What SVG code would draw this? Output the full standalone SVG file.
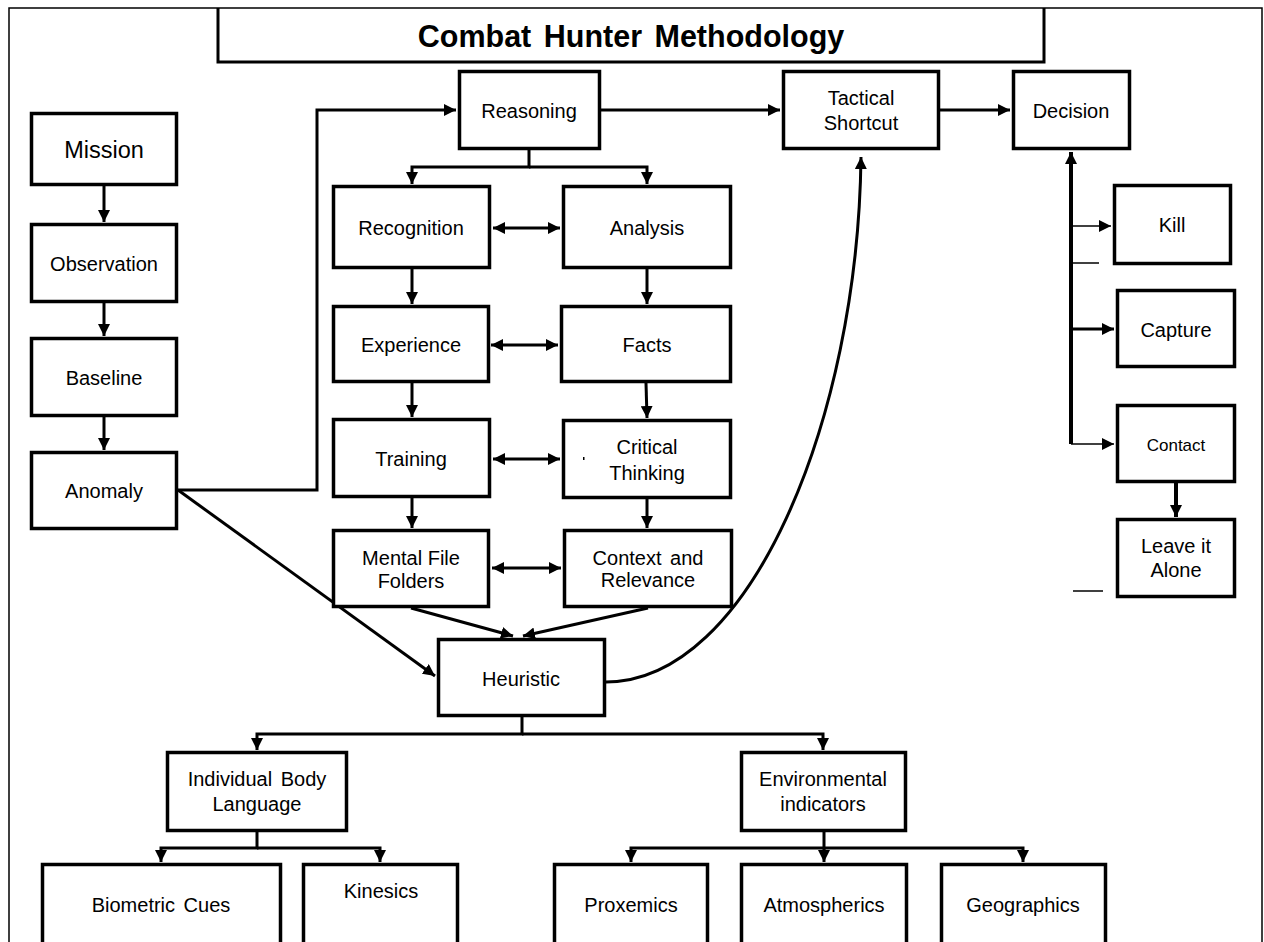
<svg xmlns="http://www.w3.org/2000/svg" width="1264" height="942" viewBox="0 0 1264 942">
<style>
.box{fill:#fff;stroke:#000;stroke-width:3.5}
.t{font-family:"Liberation Sans",Arial,sans-serif;font-size:20px;fill:#000;text-anchor:middle}
.c{fill:none;stroke:#000;stroke-width:3}
.thin{fill:none;stroke:#000;stroke-width:1.5}
.a{marker-end:url(#ah)}
.d{marker-end:url(#ah);marker-start:url(#ah)}
</style>
<defs>
<marker id="ah" markerUnits="userSpaceOnUse" markerWidth="12" markerHeight="12" refX="10" refY="5" orient="auto-start-reverse" viewBox="0 0 10 10">
<path d="M0,0 L10,5 L0,10 z" fill="#000"/>
</marker>
</defs>
<rect x="0" y="0" width="1264" height="942" fill="#fff"/>
<rect x="9" y="8" width="1253" height="960" fill="none" stroke="#000" stroke-width="1.5"/>
<g id="title">
<path d="M218,8 V62 H1044 V8" fill="none" stroke="#000" stroke-width="3"/>
<text x="631" y="47" style="font-family:'Liberation Sans',Arial,sans-serif;font-size:30.5px;font-weight:bold;word-spacing:4px" text-anchor="middle">Combat Hunter Methodology</text>
</g>
<g id="connectors">
<path class="c a" d="M104,186 V222"/>
<path class="c a" d="M104,303 V336"/>
<path class="c a" d="M104,417 V450"/>
<path class="c a" d="M178,490 H317 V110 H456"/>
<path class="c a" d="M178,490 L435,676"/>
<path class="c a" d="M601,110 H780"/>
<path class="c a" d="M940,110 H1010"/>
<path class="c a" d="M529,150 V167 H412 V184"/>
<path class="c a" d="M529,167 H647 V184"/>
<path class="c d" d="M493,228 H560"/>
<path class="c d" d="M491,345 H558"/>
<path class="c d" d="M493,459 H560"/>
<path class="c d" d="M492,568 H561"/>
<path class="c a" d="M412,269 V304"/>
<path class="c a" d="M647,269 V304"/>
<path class="c a" d="M412,383 V417"/>
<path class="c a" d="M646,383 L647,418"/>
<path class="c a" d="M412,498 V528"/>
<path class="c a" d="M647,499 V528"/>
<path class="c a" d="M411,608 L513,636"/>
<path class="c a" d="M648,608 L523,636"/>
<path class="c a" d="M606,682 C750,682 858,420 861,157"/>
<path class="c a" style="stroke-width:4" d="M1071,444 V152"/>
<path class="thin a" d="M1071,226 H1111"/>
<path class="c a" d="M1071,329 H1114"/>
<path class="thin a" d="M1071,444 H1114"/>
<path class="thin" d="M1071,263 H1099"/>
<path class="thin" d="M1073,591 H1103"/>
<path class="c a" style="stroke-width:4" d="M1176,483 V517"/>
<path class="c a" d="M522,717 V734 H257 V750"/>
<path class="c a" d="M522,734 H823 V750"/>
<path class="c a" d="M257,832 V848 H161 V862"/>
<path class="c a" d="M257,848 H380 V862"/>
<path class="c a" d="M824,832 V848 H631 V862"/>
<path class="c a" d="M824,848 H1023 V862"/>
<path class="c a" d="M824,848 V862"/>
</g>
<g id="mission"><rect class="box" x="31.5" y="113.5" width="145" height="71"/><text class="t" x="104" y="158" style="font-size:23.5px">Mission</text></g>
<g id="observation"><rect class="box" x="31.5" y="224.5" width="145" height="77"/><text class="t" x="104" y="271">Observation</text></g>
<g id="baseline"><rect class="box" x="31.5" y="338.5" width="145" height="77"/><text class="t" x="104" y="385">Baseline</text></g>
<g id="anomaly"><rect class="box" x="31.5" y="452.5" width="145" height="76"/><text class="t" x="104" y="498">Anomaly</text></g>
<g id="reasoning"><rect class="box" x="459.5" y="71.5" width="140" height="77"/><text class="t" x="529" y="118">Reasoning</text></g>
<g id="tactical"><rect class="box" x="783.5" y="71.5" width="155" height="77"/><text class="t" x="861" y="105">Tactical</text><text class="t" x="861" y="130">Shortcut</text></g>
<g id="decision"><rect class="box" x="1013.5" y="71.5" width="116" height="77"/><text class="t" x="1071" y="118">Decision</text></g>
<g id="recognition"><rect class="box" x="333.5" y="186.5" width="156" height="81"/><text class="t" x="411" y="235">Recognition</text></g>
<g id="analysis"><rect class="box" x="563.5" y="186.5" width="167" height="81"/><text class="t" x="647" y="235">Analysis</text></g>
<g id="experience"><rect class="box" x="333.5" y="306.5" width="155" height="75"/><text class="t" x="411" y="352">Experience</text></g>
<g id="facts"><rect class="box" x="561.5" y="306.5" width="169" height="75"/><text class="t" x="647" y="352">Facts</text></g>
<g id="training"><rect class="box" x="333.5" y="419.5" width="156" height="77"/><text class="t" x="411" y="466">Training</text></g>
<g id="critical"><rect class="box" x="563.5" y="420.5" width="167" height="77"/><text class="t" x="647" y="454">Critical</text><text class="t" x="647" y="480">Thinking</text><rect x="583" y="457" width="1.5" height="3" fill="#000"/></g>
<g id="mental"><rect class="box" x="333.5" y="530.5" width="155" height="76"/><text class="t" x="411" y="565">Mental File</text><text class="t" x="411" y="588">Folders</text></g>
<g id="context"><rect class="box" x="564.5" y="530.5" width="167" height="76"/><text class="t" x="648" y="565" style="word-spacing:3px">Context and</text><text class="t" x="648" y="587">Relevance</text></g>
<g id="heuristic"><rect class="box" x="438.5" y="639.5" width="166" height="76"/><text class="t" x="521" y="686">Heuristic</text></g>
<g id="kill"><rect class="box" x="1114.5" y="185.5" width="116" height="78"/><text class="t" x="1172" y="232">Kill</text></g>
<g id="capture"><rect class="box" x="1117.5" y="290.5" width="117" height="76"/><text class="t" x="1176" y="337">Capture</text></g>
<g id="contact"><rect class="box" x="1117.5" y="405.5" width="117" height="76"/><text class="t" x="1176" y="451" style="font-size:17px">Contact</text></g>
<g id="leave"><rect class="box" x="1117.5" y="519.5" width="117" height="77"/><text class="t" x="1176" y="553">Leave it</text><text class="t" x="1176" y="577">Alone</text></g>
<g id="ibl"><rect class="box" x="167.5" y="752.5" width="179" height="78"/><text class="t" x="257" y="786" style="word-spacing:3px">Individual Body</text><text class="t" x="257" y="811">Language</text></g>
<g id="env"><rect class="box" x="741.5" y="752.5" width="164" height="78"/><text class="t" x="823" y="786">Environmental</text><text class="t" x="823" y="811">indicators</text></g>
<g id="biometric"><rect class="box" x="42.5" y="864.5" width="238" height="120"/><text class="t" x="161" y="912" style="word-spacing:3px">Biometric Cues</text></g>
<g id="kinesics"><rect class="box" x="303.5" y="864.5" width="154" height="120"/><text class="t" x="381" y="898">Kinesics</text></g>
<g id="proxemics"><rect class="box" x="554.5" y="864.5" width="153" height="120"/><text class="t" x="631" y="912">Proxemics</text></g>
<g id="atmospherics"><rect class="box" x="741.5" y="864.5" width="165" height="120"/><text class="t" x="824" y="912">Atmospherics</text></g>
<g id="geographics"><rect class="box" x="941.5" y="864.5" width="164" height="120"/><text class="t" x="1023" y="912">Geographics</text></g>
</svg>
